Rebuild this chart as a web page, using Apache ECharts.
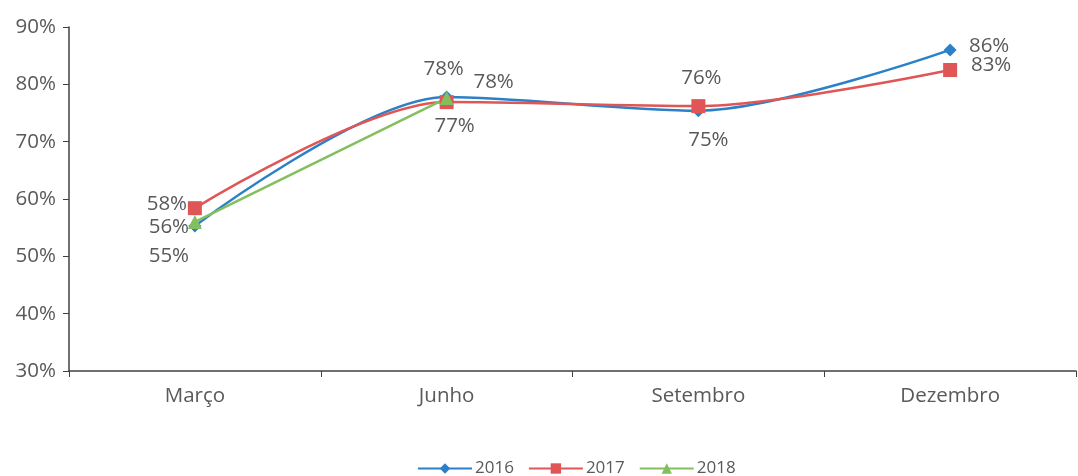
<!DOCTYPE html>
<html>
<head>
<meta charset="utf-8">
<script src="https://cdn.jsdelivr.net/npm/echarts@6/dist/echarts.min.js"></script>
<style>
  html, body { margin: 0; padding: 0; background: #fff; }
  #graphic { width: 1078px; height: 476px; }
</style>
</head>
<body>
<div id="graphic"></div>
<script>
// dados
var categorias = ['Março', 'Junho', 'Setembro', 'Dezembro'];
var anos = ['2016', '2017', '2018'];
var valores2016 = [55.3, 77.8, 75.4, 86.0];
var valores2017 = [58.4, 76.9, 76.2, 82.5];
var valores2018 = [56.0, 77.6, null, null];

// posição dos rótulos (deslocamento em px a partir do ponto)
var rotulos2016 = [[-26, 30], [47, -15], [10, 29], [39, -4]];
var rotulos2017 = [[-28, -4], [8, 24], [3, -28], [41, -5]];
var rotulos2018 = [[-26, 5], [-3, -29], null, null];

var cores = ['#2b80c8', '#e05656', '#84bf5f'];
var texto = '#595959';
var fonte = '"Open Sans", "Noto Sans", sans-serif';

function montaDados(valores, desloc){
    var ret = [];
    for(var i = 0; i < valores.length; i++){
        if(valores[i] == null){ ret.push(null); continue; }
        ret.push({
            value: valores[i],
            label: {offset: desloc[i]}
        });
    }
    return ret;
}

function serie(nome, valores, desloc, cor, simbolo, tam, suave){
    return {
        name: nome,
        type: 'line',
        smooth: suave,
        symbol: simbolo,
        symbolSize: tam,
        showAllSymbol: true,
        lineStyle: {color: cor, width: 2.5},
        itemStyle: {color: cor},
        label: {
            show: true,
            position: 'inside',
            color: texto,
            fontSize: 20.5,
            fontFamily: fonte,
            formatter: function(p){ return Math.round(p.value) + '%'; }
        },
        data: montaDados(valores, desloc)
    };
}

var option = {
    animation: false,
    grid: {left: 69, right: 2, top: 27, bottom: 105},
    legend: {
        top: 455,
        left: 412,
        itemWidth: 54,
        itemHeight: 13,
        itemGap: 14,
        textStyle: {color: texto, fontSize: 17, fontFamily: fonte, padding: [0, 0, 0, -2]},
        data: anos
    },
    xAxis: [{
        type: 'category',
        boundaryGap: true,
        data: categorias,
        axisLine: {lineStyle: {color: '#404040', width: 1.5}},
        axisTick: {show: true, length: 6, lineStyle: {color: '#404040'}},
        axisLabel: {color: texto, fontSize: 20.5, fontFamily: fonte, margin: 15}
    }],
    yAxis: [{
        type: 'value',
        min: 30,
        max: 90,
        interval: 10,
        splitLine: {show: false},
        axisLine: {show: true, lineStyle: {color: '#404040', width: 1.5}},
        axisTick: {show: true, length: 6, lineStyle: {color: '#404040'}},
        axisLabel: {color: texto, fontSize: 20.5, fontFamily: fonte, margin: 13, formatter: '{value}%'}
    }],
    series: [
        serie(anos[0], valores2016, rotulos2016, cores[0], 'diamond', 13, 0.3),
        serie(anos[1], valores2017, rotulos2017, cores[1], 'rect', 14, 0.3),
        serie(anos[2], valores2018, rotulos2018, cores[2], 'triangle', 14, false)
    ]
};

var graphic = echarts.init(document.getElementById('graphic'));
graphic.setOption(option);
</script>
</body>
</html>
